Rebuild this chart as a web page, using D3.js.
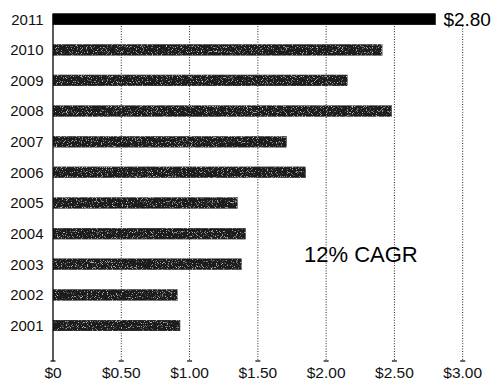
<!DOCTYPE html>
<html>
<head>
<meta charset="utf-8">
<script src="https://cdn.jsdelivr.net/npm/d3@7/dist/d3.min.js"></script>
<style>
  html, body { margin: 0; padding: 0; background: #fff; }
  svg { display: block; font-family: "Liberation Sans", Arial, Helvetica, sans-serif; }
</style>
</head>
<body>
<svg id="chart" width="491" height="381"></svg>
<script>
const years = ["2011","2010","2009","2008","2007","2006","2005","2004","2003","2002","2001"];
const values = [2.80, 2.41, 2.155, 2.48, 1.71, 1.85, 1.35, 1.41, 1.38, 0.91, 0.93];
const tickValues = [0, 0.5, 1.0, 1.5, 2.0, 2.5, 3.0];
const tickLabels = ["$0", "$0.50", "$1.00", "$1.50", "$2.00", "$2.50", "$3.00"];
const valueLabel = "$2.80";
const annotation = "12% CAGR";

const svg = d3.select("#chart");
const x = d3.scaleLinear().domain([0, 3]).range([53, 462.7]);
const y = d3.scalePoint().domain(years).range([19.2, 325.5]);
const barH = 11;
const axisBottom = 361;

// texture filter for bars
const defs = svg.append("defs");
const f = defs.append("filter").attr("id", "grain").attr("x", 0).attr("y", 0).attr("width", 1).attr("height", 1);
f.append("feTurbulence").attr("type", "fractalNoise").attr("baseFrequency", 1.2).attr("numOctaves", 1).attr("seed", 3).attr("result", "noise");
f.append("feColorMatrix").attr("in", "noise").attr("type", "matrix")
  .attr("values", "0 0 0 0 1  0 0 0 0 1  0 0 0 0 1  0 0 0 3.2 -1.9").attr("result", "specks");
f.append("feComposite").attr("in", "specks").attr("in2", "SourceGraphic").attr("operator", "in").attr("result", "sp");
f.append("feMerge").selectAll("feMergeNode").data(["SourceGraphic", "sp"]).join("feMergeNode").attr("in", d => d);

// gridlines
svg.append("g").selectAll("line").data(tickValues.filter(d => d > 0)).join("line")
  .attr("x1", d => x(d)).attr("x2", d => x(d))
  .attr("y1", 26).attr("y2", axisBottom)
  .attr("stroke", "#222").attr("stroke-width", 1).attr("stroke-dasharray", "1,1.6");

// tick marks
svg.append("g").selectAll("line").data(tickValues).join("line")
  .attr("x1", d => x(d) - 2.5).attr("x2", d => x(d) + 2.5)
  .attr("y1", axisBottom).attr("y2", axisBottom)
  .attr("stroke", "#333").attr("stroke-width", 1.5);

// bars
svg.append("g").selectAll("rect").data(years).join("rect")
  .attr("x", x(0))
  .attr("y", (d) => y(d) - barH / 2)
  .attr("width", (d, i) => x(values[i]) - x(0))
  .attr("height", barH)
  .attr("fill", (d, i) => i === 0 ? "#000" : "#1e1e1e")
  .attr("stroke", (d, i) => i === 0 ? "#000" : "#555")
  .attr("stroke-width", 0.6)
  .attr("filter", (d, i) => i === 0 ? null : "url(#grain)");

// left axis line
svg.append("line").attr("x1", x(0)).attr("x2", x(0))
  .attr("y1", y(years[0]) - barH / 2).attr("y2", axisBottom)
  .attr("stroke", "#000").attr("stroke-width", 1.3);

// year labels
svg.append("g").selectAll("text").data(years).join("text")
  .attr("x", 43.5).attr("y", d => y(d)).attr("dy", "0.36em")
  .attr("text-anchor", "end").attr("font-size", 15).attr("fill", "#111")
  .text(d => d);

// x tick labels
svg.append("g").selectAll("text").data(tickValues).join("text")
  .attr("x", d => x(d)).attr("y", 377.5)
  .attr("text-anchor", "middle").attr("font-size", 15.5).attr("fill", "#111")
  .text((d, i) => tickLabels[i]);

// value label
svg.append("text").attr("x", x(values[0]) + 8).attr("y", y(years[0])).attr("dy", "0.36em")
  .attr("font-size", 19).attr("fill", "#000").text(valueLabel);

// annotation
svg.append("text").attr("x", 304).attr("y", 262)
  .attr("font-size", 22).attr("fill", "#000").text(annotation);
</script>
</body>
</html>
